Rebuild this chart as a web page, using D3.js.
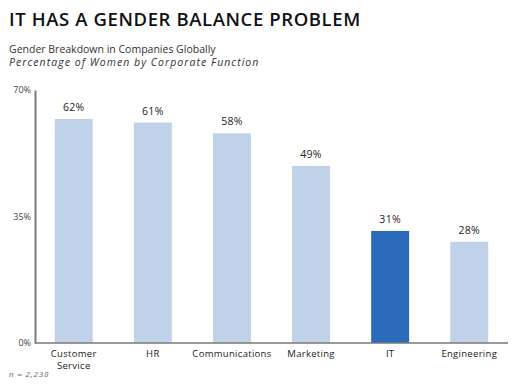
<!DOCTYPE html>
<html>
<head>
<meta charset="utf-8">
<script src="https://cdn.jsdelivr.net/npm/d3@7"></script>
<style>
  body { margin: 0; background: white; }
  svg { display: block; font-family: "Open Sans", sans-serif; }
</style>
</head>
<body>
<div id="chart"></div>
<script>
const categories = ["Customer Service", "HR", "Communications", "Marketing", "IT", "Engineering"];
const values = [62, 61, 58, 49, 31, 28];
const yTicks = [0, 35, 70];
const highlight = "IT";

const light = "#bfd2ea";
const dark = "#2a6cb9";
const axisGray = "#7a7a7a";

const width = 520;
const height = 386;
const margin = { top: 90, right: 12, bottom: 43, left: 35 };

const svg = d3.select("#chart")
  .append("svg")
  .attr("width", width)
  .attr("height", height);

// titles
svg.append("text")
  .attr("x", 9).attr("y", 26)
  .attr("font-size", 18.5).attr("font-weight", 600)
  .attr("letter-spacing", 0.6)
  .attr("fill", "#111")
  .text("IT HAS A GENDER BALANCE PROBLEM");

svg.append("text")
  .attr("x", 9).attr("y", 53)
  .attr("font-size", 10.5).attr("fill", "#333")
  .text("Gender Breakdown in Companies Globally");

svg.append("text")
  .attr("x", 9).attr("y", 66)
  .attr("font-size", 10.5).attr("font-style", "italic").attr("fill", "#333")
  .attr("letter-spacing", 1.05)
  .text("Percentage of Women by Corporate Function");

const x = d3.scaleBand()
  .domain(categories)
  .range([margin.left, width - margin.right])
  .paddingInner(0.52)
  .paddingOuter(0.25);

const y = d3.scaleLinear()
  .domain([0, 70])
  .range([height - margin.bottom, margin.top]);

const data = categories.map((c, i) => ({ cat: c, val: values[i] }));

svg.append("g")
  .selectAll("rect")
  .data(data)
  .join("rect")
  .attr("x", d => x(d.cat))
  .attr("y", d => y(d.val))
  .attr("width", x.bandwidth())
  .attr("height", d => y(0) - y(d.val))
  .attr("fill", d => d.cat === highlight ? dark : light);

svg.append("g")
  .selectAll("text")
  .data(data)
  .join("text")
  .attr("x", d => x(d.cat) + x.bandwidth() / 2)
  .attr("y", d => y(d.val) - 8)
  .attr("text-anchor", "middle")
  .attr("font-size", 10.5).attr("font-weight", 500)
  .attr("letter-spacing", 0.3)
  .attr("fill", "#222")
  .text(d => d.val + "%");

// y axis
const yAxis = svg.append("g")
  .attr("transform", `translate(${margin.left},0)`)
  .call(d3.axisLeft(y).tickValues(yTicks).tickSize(0).tickPadding(4).tickFormat(d => d + "%"));
yAxis.select(".domain").attr("stroke", axisGray).attr("stroke-width", 2);
yAxis.selectAll("text")
  .attr("font-family", "Open Sans, sans-serif")
  .attr("font-size", 9).attr("fill", "#444");

// x axis
const xAxis = svg.append("g")
  .attr("transform", `translate(0,${y(0)})`)
  .call(d3.axisBottom(x).tickSize(0).tickPadding(0).tickFormat(""));
xAxis.select(".domain")
  .attr("d", `M${margin.left},0H${width - margin.right}`)
  .attr("stroke", axisGray).attr("stroke-width", 1.5);
xAxis.selectAll(".tick text").remove();
xAxis.selectAll(".tick")
  .append("text")
  .attr("fill", "#222")
  .attr("font-family", "Open Sans, sans-serif")
  .attr("font-size", 9.5)
  .attr("letter-spacing", 0.3)
  .attr("text-anchor", "middle")
  .selectAll("tspan")
  .data(d => d === "Customer Service" ? ["Customer", "Service"] : [d])
  .join("tspan")
  .attr("x", 0)
  .attr("y", (d, i) => 14 + i * 11.5)
  .text(d => d);

svg.append("text")
  .attr("x", 9).attr("y", 377)
  .attr("font-size", 8).attr("font-style", "italic").attr("fill", "#666")
  .attr("letter-spacing", 0.8)
  .text("n = 2,238");
</script>
</body>
</html>
